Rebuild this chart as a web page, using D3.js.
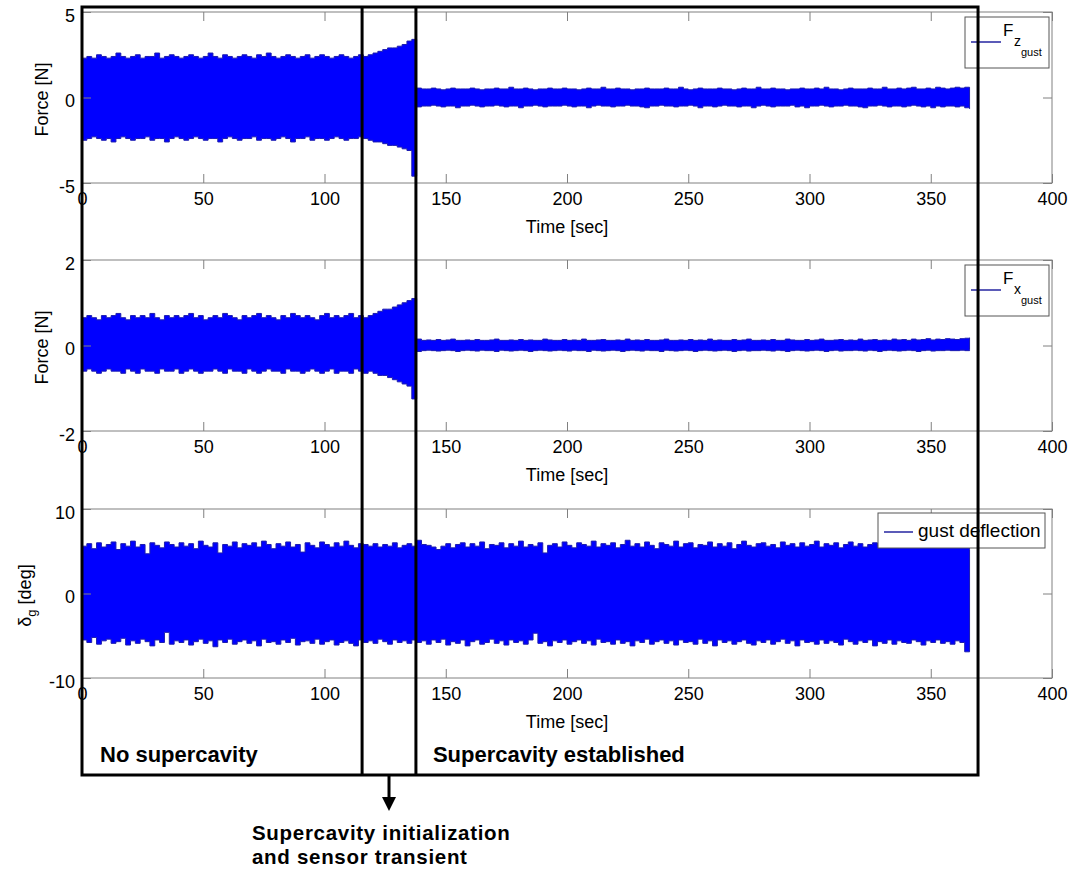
<!DOCTYPE html>
<html>
<head>
<meta charset="utf-8">
<script src="https://cdn.jsdelivr.net/npm/d3@7"></script>
<style>
  body { margin: 0; background: #fff; }
  text { font-family: "Liberation Sans", Arial, Helvetica, sans-serif; }
</style>
</head>
<body>
<svg id="chart" width="1073" height="874"></svg>
<script>
// Envelope of each recorded signal, one sample every 2 s (t = 0, 2, ..., 366).
// Each row holds 20 seconds of samples.
const sampleStep = 2;

const fzUpper = [
  2.3,2.4,2.3,2.5,2.4,2.3,2.4,2.6,2.4,2.3,
  2.4,2.5,2.3,2.4,2.4,2.6,2.3,2.4,2.5,2.4,
  2.3,2.4,2.5,2.4,2.3,2.4,2.6,2.4,2.3,2.5,
  2.4,2.3,2.4,2.5,2.4,2.3,2.5,2.4,2.6,2.4,
  2.3,2.4,2.5,2.4,2.3,2.4,2.5,2.3,2.4,2.5,
  2.4,2.3,2.4,2.5,2.4,2.3,2.4,2.5,2.4,2.5,
  2.6,2.7,2.8,2.9,2.9,3.0,3.1,3.3,3.4,0.55,
  0.5,0.5,0.55,0.5,0.45,0.5,0.55,0.5,0.5,0.5,
  0.55,0.5,0.45,0.5,0.5,0.55,0.5,0.5,0.6,0.5,
  0.5,0.55,0.5,0.45,0.5,0.5,0.55,0.5,0.5,0.55,
  0.5,0.5,0.45,0.5,0.55,0.5,0.5,0.6,0.5,0.5,
  0.55,0.5,0.5,0.45,0.5,0.5,0.55,0.5,0.5,0.5,
  0.55,0.5,0.5,0.6,0.5,0.45,0.5,0.55,0.5,0.5,
  0.5,0.55,0.5,0.5,0.45,0.5,0.55,0.5,0.5,0.6,
  0.5,0.5,0.55,0.5,0.5,0.45,0.5,0.5,0.55,0.5,
  0.5,0.55,0.5,0.6,0.5,0.5,0.45,0.5,0.55,0.5,
  0.5,0.5,0.55,0.5,0.5,0.6,0.5,0.5,0.55,0.5,
  0.55,0.6,0.5,0.5,0.55,0.5,0.6,0.55,0.5,0.55,
  0.6,0.55,0.6,0.6
];
const fzLower = [
  -2.5,-2.4,-2.3,-2.4,-2.5,-2.4,-2.6,-2.4,-2.3,-2.4,
  -2.5,-2.4,-2.4,-2.3,-2.5,-2.4,-2.4,-2.6,-2.4,-2.3,
  -2.4,-2.5,-2.4,-2.3,-2.4,-2.5,-2.4,-2.4,-2.6,-2.4,
  -2.3,-2.4,-2.5,-2.4,-2.4,-2.3,-2.5,-2.4,-2.4,-2.5,
  -2.4,-2.3,-2.4,-2.6,-2.4,-2.4,-2.3,-2.5,-2.4,-2.4,
  -2.5,-2.4,-2.3,-2.4,-2.5,-2.4,-2.4,-2.3,-2.4,-2.5,
  -2.6,-2.6,-2.7,-2.8,-2.8,-2.9,-3.0,-3.1,-4.6,-0.55,
  -0.5,-0.5,-0.45,-0.5,-0.55,-0.5,-0.5,-0.6,-0.5,-0.5,
  -0.45,-0.5,-0.55,-0.5,-0.5,-0.45,-0.5,-0.55,-0.5,-0.5,
  -0.6,-0.5,-0.5,-0.45,-0.5,-0.55,-0.5,-0.5,-0.5,-0.45,
  -0.5,-0.55,-0.5,-0.5,-0.6,-0.5,-0.45,-0.5,-0.5,-0.55,
  -0.5,-0.5,-0.45,-0.5,-0.5,-0.55,-0.6,-0.5,-0.5,-0.45,
  -0.5,-0.5,-0.55,-0.5,-0.5,-0.45,-0.5,-0.6,-0.5,-0.5,
  -0.55,-0.5,-0.45,-0.5,-0.5,-0.55,-0.5,-0.5,-0.6,-0.5,
  -0.45,-0.5,-0.55,-0.5,-0.5,-0.5,-0.45,-0.55,-0.5,-0.6,
  -0.5,-0.5,-0.45,-0.5,-0.55,-0.5,-0.5,-0.45,-0.5,-0.5,
  -0.55,-0.6,-0.5,-0.5,-0.45,-0.5,-0.55,-0.5,-0.5,-0.55,
  -0.5,-0.45,-0.5,-0.55,-0.5,-0.6,-0.5,-0.55,-0.5,-0.5,
  -0.55,-0.5,-0.6,-0.65
];

const fxUpper = [
  0.65,0.7,0.65,0.6,0.7,0.65,0.7,0.75,0.65,0.6,
  0.7,0.65,0.7,0.65,0.75,0.65,0.6,0.7,0.65,0.7,
  0.65,0.7,0.75,0.65,0.7,0.6,0.65,0.7,0.65,0.75,
  0.7,0.65,0.6,0.7,0.65,0.7,0.75,0.65,0.7,0.65,
  0.6,0.7,0.65,0.75,0.7,0.65,0.7,0.65,0.6,0.7,
  0.75,0.65,0.7,0.65,0.7,0.75,0.65,0.7,0.65,0.7,
  0.75,0.8,0.85,0.85,0.9,0.95,1.0,1.05,1.1,0.15,
  0.12,0.13,0.12,0.14,0.12,0.13,0.15,0.12,0.12,0.13,
  0.12,0.14,0.12,0.12,0.13,0.15,0.12,0.12,0.13,0.12,
  0.14,0.12,0.13,0.12,0.12,0.15,0.13,0.12,0.12,0.14,
  0.12,0.13,0.12,0.15,0.12,0.12,0.13,0.14,0.12,0.12,
  0.13,0.12,0.15,0.12,0.13,0.12,0.14,0.12,0.12,0.13,
  0.15,0.12,0.12,0.13,0.12,0.14,0.12,0.13,0.12,0.15,
  0.12,0.13,0.12,0.12,0.14,0.12,0.13,0.15,0.12,0.12,
  0.13,0.12,0.14,0.12,0.12,0.15,0.13,0.12,0.12,0.14,
  0.12,0.13,0.15,0.12,0.12,0.13,0.14,0.12,0.13,0.12,
  0.15,0.12,0.13,0.14,0.12,0.13,0.12,0.15,0.13,0.14,
  0.12,0.15,0.13,0.14,0.16,0.13,0.15,0.14,0.16,0.15,
  0.14,0.16,0.17,0.18
];
const fxLower = [
  -0.6,-0.55,-0.6,-0.65,-0.6,-0.55,-0.6,-0.6,-0.65,-0.55,
  -0.6,-0.65,-0.55,-0.6,-0.6,-0.65,-0.55,-0.6,-0.6,-0.55,
  -0.65,-0.6,-0.55,-0.6,-0.65,-0.6,-0.6,-0.55,-0.6,-0.65,
  -0.55,-0.6,-0.6,-0.65,-0.55,-0.6,-0.65,-0.6,-0.55,-0.6,
  -0.6,-0.65,-0.55,-0.6,-0.6,-0.65,-0.6,-0.55,-0.6,-0.65,
  -0.6,-0.55,-0.65,-0.6,-0.6,-0.65,-0.55,-0.6,-0.65,-0.6,
  -0.65,-0.7,-0.7,-0.75,-0.8,-0.85,-0.9,-0.95,-1.25,-0.14,
  -0.12,-0.11,-0.12,-0.13,-0.12,-0.11,-0.12,-0.14,-0.12,-0.11,
  -0.12,-0.13,-0.11,-0.12,-0.12,-0.14,-0.11,-0.12,-0.13,-0.12,
  -0.11,-0.12,-0.14,-0.12,-0.11,-0.12,-0.13,-0.12,-0.11,-0.12,
  -0.13,-0.11,-0.12,-0.12,-0.14,-0.11,-0.12,-0.13,-0.12,-0.11,
  -0.12,-0.14,-0.12,-0.11,-0.12,-0.13,-0.11,-0.12,-0.12,-0.14,
  -0.11,-0.12,-0.13,-0.12,-0.11,-0.12,-0.14,-0.12,-0.11,-0.12,
  -0.13,-0.12,-0.11,-0.12,-0.14,-0.12,-0.11,-0.13,-0.12,-0.12,
  -0.11,-0.12,-0.13,-0.11,-0.12,-0.14,-0.12,-0.11,-0.12,-0.13,
  -0.12,-0.11,-0.12,-0.14,-0.12,-0.11,-0.13,-0.12,-0.12,-0.11,
  -0.12,-0.13,-0.11,-0.12,-0.14,-0.12,-0.11,-0.12,-0.13,-0.12,
  -0.11,-0.12,-0.14,-0.12,-0.11,-0.13,-0.12,-0.12,-0.11,-0.12,
  -0.12,-0.11,-0.12,-0.1
];

const dgUpper = [
  5.6,5.9,5.3,6.0,5.5,5.8,6.1,5.2,5.9,5.6,
  6.2,5.5,5.8,4.7,6.0,5.7,5.4,6.1,5.8,5.5,
  6.0,5.6,5.9,5.3,6.2,5.7,5.5,6.0,4.8,5.8,
  5.6,6.1,5.4,5.9,5.7,6.0,5.5,6.2,5.8,5.3,
  5.9,5.6,6.1,5.5,5.8,4.9,6.0,5.7,5.4,6.1,
  5.8,5.5,6.0,5.6,6.2,5.7,5.4,5.9,5.8,5.6,
  5.9,5.5,5.8,5.6,6.0,5.4,5.7,5.9,5.6,6.3,
  5.8,5.7,5.5,5.2,5.6,5.9,5.4,5.8,6.0,5.5,
  5.9,5.6,6.1,5.3,5.8,5.7,6.0,5.4,5.9,5.6,
  6.2,5.5,5.8,5.6,6.0,4.8,5.7,5.9,5.5,6.1,
  5.7,5.4,6.0,5.8,5.6,6.2,5.5,5.9,5.7,6.0,
  5.4,5.8,6.3,5.6,5.9,5.5,6.1,5.7,5.3,6.0,
  5.8,5.6,6.2,5.5,5.9,6.0,5.4,5.8,5.7,6.1,
  5.5,5.9,5.6,6.0,5.3,5.8,6.2,5.7,5.5,5.9,
  6.0,5.6,5.8,5.4,6.1,5.7,5.9,5.5,6.0,5.6,
  5.8,6.2,5.5,5.9,5.7,6.0,5.4,5.8,6.1,5.6,
  5.9,5.5,5.8,6.0,5.6,5.7,5.9,5.5,5.8,5.6,
  5.7,5.9,5.5,5.8,5.6,5.9,5.4,5.7,5.8,5.5,
  5.7,5.6,5.8,5.2
];
const dgLower = [
  -5.5,-5.8,-5.2,-6.0,-5.6,-5.4,-5.9,-5.7,-5.3,-6.1,
  -5.6,-5.9,-5.4,-5.7,-6.2,-5.5,-5.8,-4.6,-6.0,-5.6,
  -5.8,-5.5,-6.1,-5.7,-5.4,-5.9,-5.6,-6.3,-5.5,-5.8,
  -5.4,-6.0,-5.7,-5.5,-5.9,-5.6,-6.2,-5.4,-5.8,-5.7,
  -6.0,-5.5,-5.8,-5.3,-6.1,-5.7,-5.6,-5.9,-5.4,-6.0,
  -5.7,-5.5,-6.1,-5.8,-5.6,-5.9,-6.2,-5.5,-5.8,-5.6,
  -5.9,-5.4,-5.7,-6.0,-5.5,-5.8,-5.6,-5.9,-5.5,-5.8,
  -5.6,-6.0,-5.5,-5.8,-5.4,-6.1,-5.7,-5.9,-5.5,-6.2,
  -5.7,-5.5,-6.0,-5.8,-5.4,-5.9,-5.6,-6.1,-5.5,-5.8,
  -5.6,-6.0,-5.5,-4.7,-5.9,-5.7,-6.2,-5.6,-5.8,-5.5,
  -6.0,-5.7,-5.5,-5.9,-5.6,-6.1,-5.4,-5.8,-5.7,-6.0,
  -5.5,-5.9,-5.7,-6.2,-5.6,-5.8,-5.4,-6.0,-5.7,-5.5,
  -5.9,-5.6,-6.1,-5.5,-5.8,-5.7,-6.0,-5.4,-5.9,-5.6,
  -6.2,-5.5,-5.8,-5.6,-6.0,-5.7,-5.5,-5.9,-6.1,-5.6,
  -5.8,-5.5,-6.0,-5.7,-5.4,-5.9,-5.6,-6.2,-5.5,-5.8,
  -5.7,-6.0,-5.5,-5.9,-5.6,-5.8,-6.1,-5.4,-5.7,-6.0,
  -5.6,-5.8,-5.5,-6.2,-5.7,-5.9,-5.5,-6.0,-5.6,-5.8,
  -5.9,-5.5,-5.7,-6.1,-5.6,-5.8,-5.5,-5.9,-5.7,-6.0,
  -5.6,-5.8,-6.9,-6.9
];

// Axis ticks
const timeTicks = [0, 50, 100, 150, 200, 250, 300, 350, 400];
const fzTicks = [-5, 0, 5];
const fxTicks = [-2, 0, 2];
const dgTicks = [-10, 0, 10];

// Test phases (seconds) and their captions
const phaseBounds = [0, 115.5, 137.7, 369.5];
const phaseLabels = ["No supercavity", "Supercavity established"];
const transientLabel = ["Supercavity initialization", "and sensor transient"];

// ---------------------------------------------------------------------------
const svg = d3.select("#chart");
svg.append("rect").attr("width", 1073).attr("height", 874).attr("fill", "#fff");

const x = d3.scaleLinear().domain([0, 400]).range([82, 1052]);
const frameColor = "#808080";
const fontSize = 18;
const plainNumber = d => String(d);   // ASCII hyphen for negatives

const panels = [
  { top: 12,  bottom: 183, upper: fzUpper, lower: fzLower, ticks: fzTicks,
    legend: { kind: "sub", sub: "z" }, ylabel: "Force [N]" },
  { top: 260, bottom: 431, upper: fxUpper, lower: fxLower, ticks: fxTicks,
    legend: { kind: "sub", sub: "x" }, ylabel: "Force [N]" },
  { top: 509, bottom: 678, upper: dgUpper, lower: dgLower, ticks: dgTicks,
    legend: { kind: "text", text: "gust deflection" }, ylabel: null }
];

panels.forEach(p => {
  const y = d3.scaleLinear()
    .domain([p.ticks[0], p.ticks[p.ticks.length - 1]])
    .range([p.bottom, p.top]);
  const g = svg.append("g");

  // signal envelope
  const area = d3.area()
    .x((d, i) => x(i * sampleStep))
    .y0((d, i) => y(p.lower[i]))
    .y1((d, i) => y(p.upper[i]))
    .curve(d3.curveStepAfter);
  g.append("path")
    .datum(p.upper)
    .attr("d", area)
    .attr("fill", "#0000ff")
    .attr("stroke", "#1c1cb0")
    .attr("stroke-width", 1)
    .attr("stroke-linejoin", "miter");

  // frame
  g.append("rect")
    .attr("x", x(0)).attr("y", p.top)
    .attr("width", x(400) - x(0)).attr("height", p.bottom - p.top)
    .attr("fill", "none").attr("stroke", frameColor).attr("stroke-width", 1);

  const styleAxis = sel => {
    sel.select(".domain").remove();
    sel.selectAll(".tick line").attr("stroke", frameColor);
    sel.selectAll(".tick text")
      .attr("fill", "#000")
      .attr("font-size", fontSize)
      .attr("font-family", '"Liberation Sans", Arial, sans-serif');
  };

  g.append("g").attr("transform", `translate(0,${p.bottom})`)
    .call(d3.axisBottom(x).tickValues(timeTicks).tickSize(-9).tickPadding(9).tickFormat(plainNumber))
    .call(styleAxis);
  g.append("g").attr("transform", `translate(0,${p.top})`)
    .call(d3.axisTop(x).tickValues(timeTicks).tickSize(-9).tickFormat(""))
    .call(styleAxis);
  const left = g.append("g").attr("transform", `translate(${x(0)},0)`)
    .call(d3.axisLeft(y).tickValues(p.ticks).tickSize(-9).tickPadding(7).tickFormat(plainNumber))
    .call(styleAxis);
  left.selectAll(".tick text").attr("dy", "0.5em");
  g.append("g").attr("transform", `translate(${x(400)},0)`)
    .call(d3.axisRight(y).tickValues(p.ticks).tickSize(-9).tickFormat(""))
    .call(styleAxis);

  // x label
  g.append("text")
    .attr("x", x(200)).attr("y", p.bottom + 50)
    .attr("text-anchor", "middle").attr("font-size", fontSize)
    .text("Time [sec]");

  // y label
  const cy = (p.top + p.bottom) / 2 + 2;
  if (p.ylabel) {
    g.append("text")
      .attr("transform", `translate(48,${cy}) rotate(-90)`)
      .attr("text-anchor", "middle").attr("font-size", fontSize)
      .text(p.ylabel);
  } else {
    const t = g.append("text")
      .attr("transform", `translate(31,${cy}) rotate(-90)`)
      .attr("text-anchor", "middle").attr("font-size", fontSize);
    t.append("tspan").text("δ");
    t.append("tspan").attr("font-size", 13).attr("dy", 5).text("g");
    t.append("tspan").attr("dy", -5).text(" [deg]");
  }

  // legend
  const lineColor = "#2424a0";
  if (p.legend.kind === "sub") {
    const bx = 965, by = p.top + 5;
    g.append("rect").attr("x", bx).attr("y", by).attr("width", 84).attr("height", 51)
      .attr("fill", "#fff").attr("stroke", "#555").attr("stroke-width", 1);
    g.append("line").attr("x1", bx + 6).attr("x2", bx + 36)
      .attr("y1", by + 25).attr("y2", by + 25)
      .attr("stroke", lineColor).attr("stroke-width", 1.5);
    g.append("text").attr("x", bx + 38).attr("y", by + 19).attr("font-size", 17).text("F");
    g.append("text").attr("x", bx + 49).attr("y", by + 29).attr("font-size", 14).text(p.legend.sub);
    g.append("text").attr("x", bx + 56).attr("y", by + 39).attr("font-size", 11).text("gust");
  } else {
    const bx = 878, by = p.top + 4;
    g.append("rect").attr("x", bx).attr("y", by).attr("width", 167).attr("height", 35)
      .attr("fill", "#fff").attr("stroke", "#555").attr("stroke-width", 1);
    g.append("line").attr("x1", bx + 6).attr("x2", bx + 35)
      .attr("y1", by + 19).attr("y2", by + 19)
      .attr("stroke", lineColor).attr("stroke-width", 1.5);
    g.append("text").attr("x", bx + 40).attr("y", by + 24).attr("font-size", 19).text(p.legend.text);
  }
});

// ---------------------------------------------------------------------------
// Phase annotation: heavy box split into the three phases of the run
const boxTop = 7, boxBottom = 775;
const ann = svg.append("g").attr("stroke", "#000").attr("stroke-width", 3).attr("fill", "none");
ann.append("rect")
  .attr("x", x(phaseBounds[0])).attr("y", boxTop)
  .attr("width", x(phaseBounds[3]) - x(phaseBounds[0]))
  .attr("height", boxBottom - boxTop);
[phaseBounds[1], phaseBounds[2]].forEach(t => {
  ann.append("line").attr("x1", x(t)).attr("x2", x(t))
    .attr("y1", boxTop).attr("y2", boxBottom);
});

const boldText = (tx, ty, s, size, spacing) => svg.append("text")
  .attr("x", tx).attr("y", ty)
  .attr("font-size", size).attr("font-weight", "bold").attr("fill", "#000")
  .attr("letter-spacing", spacing)
  .text(s);

boldText(x(phaseBounds[0]) + 18, 762, phaseLabels[0], 22, 0);
boldText(x(phaseBounds[2]) + 17, 762, phaseLabels[1], 22, 0);

// arrow pointing to the transient caption
const ax = x((phaseBounds[1] + phaseBounds[2]) / 2);
svg.append("line").attr("x1", ax).attr("x2", ax).attr("y1", boxBottom).attr("y2", 798)
  .attr("stroke", "#000").attr("stroke-width", 3);
svg.append("path")
  .attr("d", `M${ax - 7},797 L${ax + 7},797 L${ax},811 Z`)
  .attr("fill", "#000");

boldText(252, 840, transientLabel[0], 20.5, 0.7);
boldText(252, 864, transientLabel[1], 20.5, 0.7);
</script>
</body>
</html>
